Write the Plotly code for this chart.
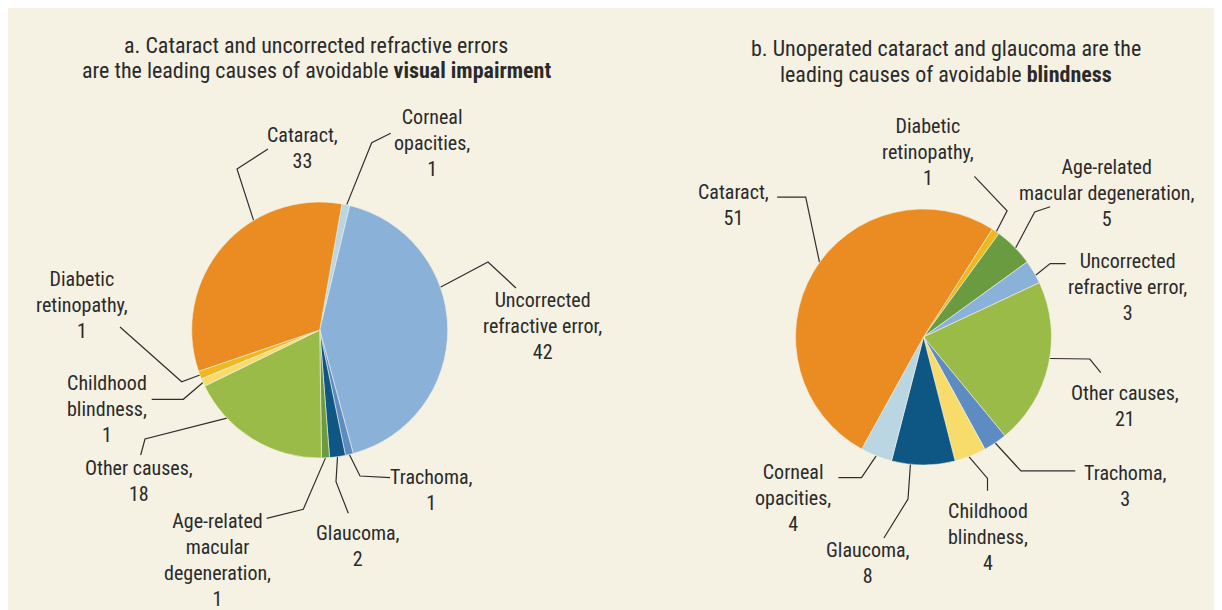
import math
import plotly.graph_objects as go

# ---------------- data ----------------
a_labels = ["Corneal opacities", "Uncorrected refractive error", "Trachoma", "Glaucoma",
            "Age-related macular degeneration", "Other causes", "Childhood blindness",
            "Diabetic retinopathy", "Cataract"]
a_values = [1, 42, 1, 2, 1, 18, 1, 1, 33]

b_labels = ["Diabetic retinopathy", "Age-related macular degeneration", "Uncorrected refractive error",
            "Other causes", "Trachoma", "Childhood blindness", "Glaucoma", "Corneal opacities", "Cataract"]
b_values = [1, 5, 3, 21, 3, 4, 8, 4, 51]

# label text (line breaks as in the reference)
a_text = {
    "Cataract": "Cataract,<br>33",
    "Corneal opacities": "Corneal<br>opacities,<br>1",
    "Uncorrected refractive error": "Uncorrected<br>refractive error,<br>42",
    "Diabetic retinopathy": "Diabetic<br>retinopathy,<br>1",
    "Childhood blindness": "Childhood<br>blindness,<br>1",
    "Other causes": "Other causes,<br>18",
    "Age-related macular degeneration": "Age-related<br>macular<br>degeneration,<br>1",
    "Glaucoma": "Glaucoma,<br>2",
    "Trachoma": "Trachoma,<br>1",
}
b_text = {
    "Cataract": "Cataract,<br>51",
    "Diabetic retinopathy": "Diabetic<br>retinopathy,<br>1",
    "Age-related macular degeneration": "Age-related<br>macular degeneration,<br>5",
    "Uncorrected refractive error": "Uncorrected<br>refractive error,<br>3",
    "Other causes": "Other causes,<br>21",
    "Trachoma": "Trachoma,<br>3",
    "Childhood blindness": "Childhood<br>blindness,<br>4",
    "Glaucoma": "Glaucoma,<br>8",
    "Corneal opacities": "Corneal<br>opacities,<br>4",
}

a_title = ["a. Cataract and uncorrected refractive errors",
           "are the leading causes of avoidable <b>visual impairment</b>"]
b_title = ["b. Unoperated cataract and glaucoma are the",
           "leading causes of avoidable <b>blindness</b>"]

colors = {
    "Cataract": "#EA8C22",
    "Corneal opacities": "#BAD6E2",
    "Uncorrected refractive error": "#8AB2D8",
    "Trachoma": "#5D8CC2",
    "Glaucoma": "#0E5684",
    "Age-related macular degeneration": "#6A9B40",
    "Other causes": "#9BBB49",
    "Childhood blindness": "#F7DC6B",
    "Diabetic retinopathy": "#EDB820",
}

# ---------------- layout / style ----------------
OFF = 8                      # page offset of the figure (body margin)
W, H = 1214, 602
FONT = "Liberation Sans Narrow, Roboto Condensed, Arial Narrow, DejaVu Sans Condensed, sans-serif"
TXT = "#2a2a2a"
BG = "#F5F1E3"
R = 128

pies = [
    dict(labels=a_labels, values=a_values, text=a_text, cx=319.7, cy=330.0, rot=10.0,
         # label: (anchor fraction within slice, elbow, line end, label centre) in page pixels
         callouts={
             "Cataract": (0.654, (237, 169), (268, 149), (302, 147.5)),
             "Corneal opacities": (0.6, (371.7, 142.7), (390.7, 133.3), (432, 142.7)),
             "Uncorrected refractive error": (0.376, (488, 262), (516, 288), (542, 325.5)),
             "Diabetic retinopathy": (0.5, (181.7, 381.7), (120, 327), (81.7, 305)),
             "Childhood blindness": (0.5, (183.3, 399.3), (151.7, 399.3), (107, 409)),
             "Other causes": (0.73, (145, 439), (140.7, 455), (139, 481)),
             "Age-related macular degeneration": (0.5, (303.3, 509.3), (266.7, 518.3), (217.3, 559.5)),
             "Glaucoma": (0.5, (336, 481.7), (348.3, 513.3), (357.7, 545.8)),
             "Trachoma": (0.5, (360, 476), (390, 477.7), (431.7, 489.7)),
         },
         title=a_title, tpos=(316, 45, 70)),
    dict(labels=b_labels, values=b_values, text=b_text, cx=923.5, cy=337.0, rot=32.5,
         callouts={
             "Cataract": (0.527, (805.7, 197.1), (777.1, 197.1), (733.4, 205)),
             "Diabetic retinopathy": (0.6, (1007.1, 210.9), (974.4, 176.4), (927.9, 151.7)),
             "Age-related macular degeneration": (0.55, (1034.7, 211.9), (1050.2, 206.7), (1107, 193)),
             "Uncorrected refractive error": (0.65, (1050.2, 263.6), (1065.7, 263.6), (1127.7, 286.5)),
             "Other causes": (0.46, (1089.8, 359), (1100.8, 372.7), (1125.2, 406)),
             "Trachoma": (0.5, (1020.9, 470.9), (1075.3, 470.9), (1125.2, 485.5)),
             "Childhood blindness": (0.55, (987.5, 478.4), (987.5, 490.8), (987.5, 537.4)),
             "Glaucoma": (0.7, (908, 499.1), (883.9, 538), (867.7, 563)),
             "Corneal opacities": (0.5, (861.5, 477.7), (838.4, 477.7), (792.9, 497.6)),
         },
         title=b_title, tpos=(946, 48, 74)),
]

fig = go.Figure()
annotations = []

for p in pies:
    cx, cy = p["cx"], p["cy"]
    fx, fy = cx - OFF, cy - OFF
    fig.add_trace(go.Pie(
        labels=p["labels"], values=p["values"], sort=False, direction="clockwise",
        rotation=p["rot"], textinfo="none", hoverinfo="label+value",
        marker=dict(colors=[colors[l] for l in p["labels"]], line=dict(color=BG, width=0.6)),
        domain=dict(x=[(fx - R) / W, (fx + R) / W], y=[(H - fy - R) / H, (H - fy + R) / H]),
        showlegend=False,
    ))
    total = sum(p["values"])
    start = p["rot"]
    for lab, val in zip(p["labels"], p["values"]):
        span = 360.0 * val / total
        frac, elbow, end, lc = p["callouts"][lab]
        ang = math.radians(start + frac * span)
        ex, ey = cx + R * math.sin(ang), cy - R * math.cos(ang)
        fig.add_trace(go.Scatter(
            x=[ex, elbow[0], end[0]], y=[ey, elbow[1], end[1]], mode="lines",
            line=dict(color="#2f2f2f", width=1.2), hoverinfo="skip", showlegend=False))
        annotations.append(dict(
            x=lc[0], y=lc[1], xref="x", yref="y", text=p["text"][lab], showarrow=False,
            xanchor="center", yanchor="middle", align="center",
            font=dict(family=FONT, size=20, color=TXT)))
        start += span
    tx, ty1, ty2 = p["tpos"]
    for line, ty in zip(p["title"], (ty1, ty2)):
        annotations.append(dict(
            x=tx, y=ty, xref="x", yref="y", text=line, showarrow=False,
            xanchor="center", yanchor="middle", align="center",
            font=dict(family=FONT, size=22, color=TXT)))

fig.update_layout(
    width=W, height=H, margin=dict(l=0, r=0, t=0, b=0),
    paper_bgcolor=BG, plot_bgcolor="rgba(0,0,0,0)",
    xaxis=dict(range=[OFF, OFF + W], visible=False, fixedrange=True, domain=[0, 1]),
    yaxis=dict(range=[OFF + H, OFF], visible=False, fixedrange=True, domain=[0, 1]),
    annotations=annotations,
    showlegend=False,
)

fig.write_html("out.html")
